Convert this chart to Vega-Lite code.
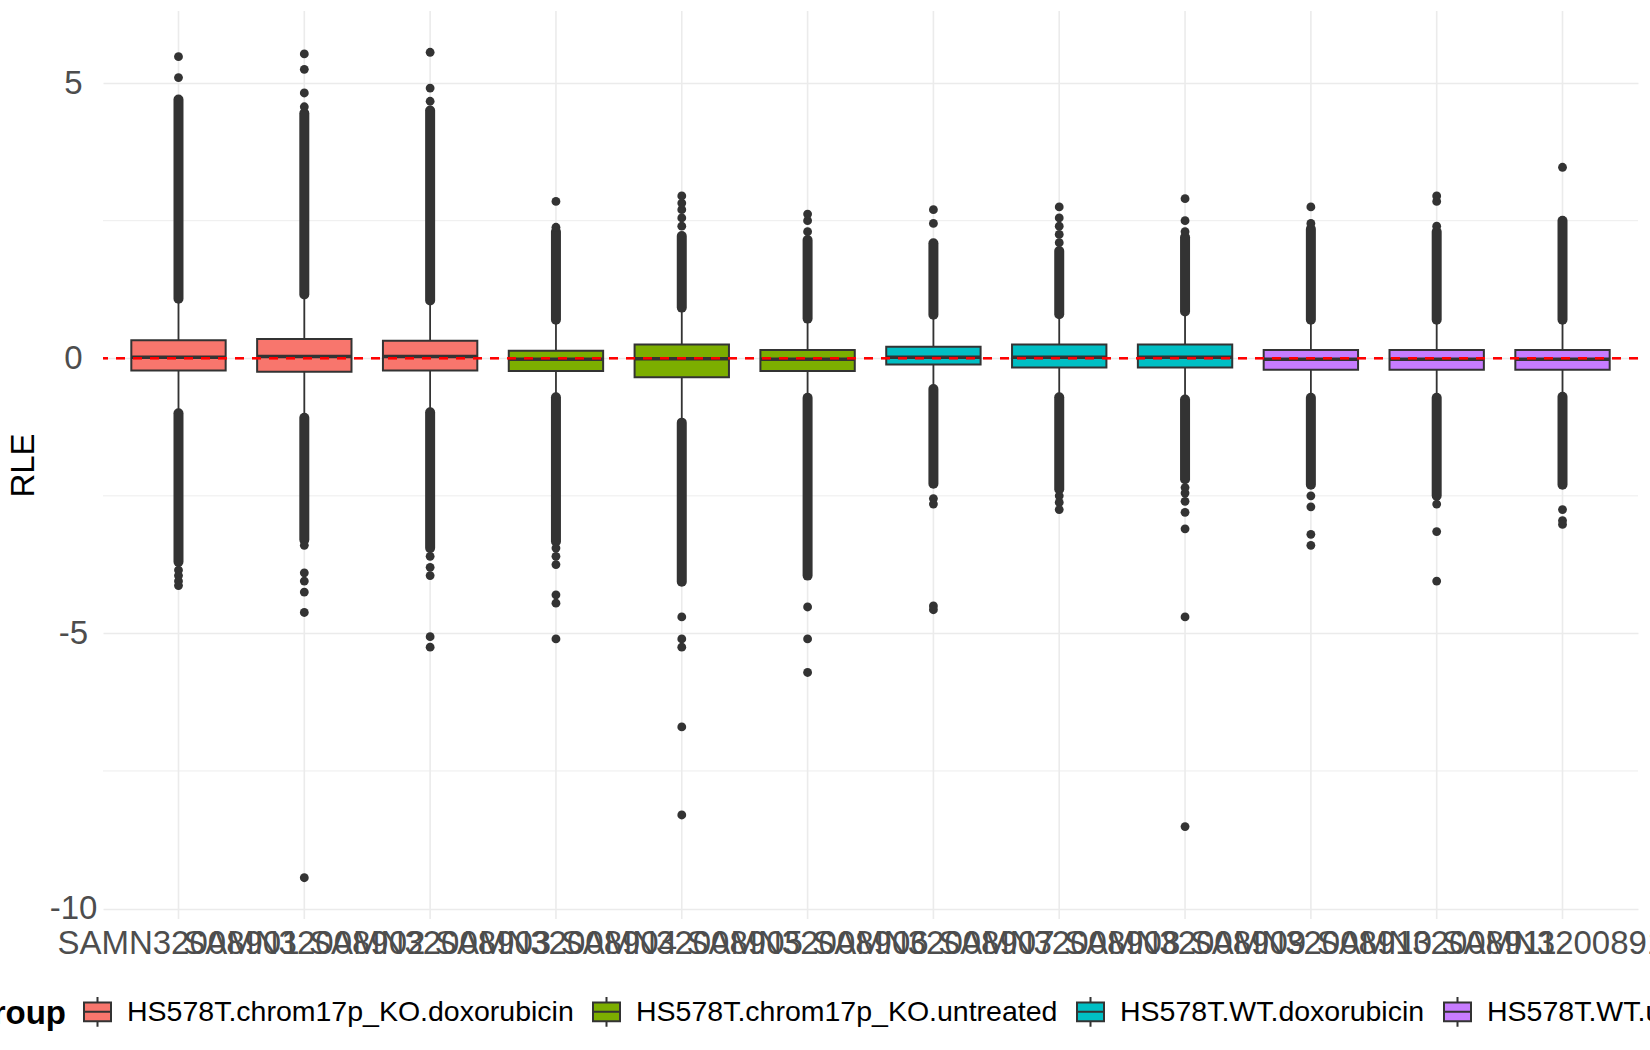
{
  "$schema": "https://vega.github.io/schema/vega-lite/v6.json",
  "autosize": {"type": "none"},
  "padding": {"left": 103, "top": 11, "right": 12, "bottom": 131},
  "width": 1535,
  "height": 908,
  "config": {
    "view": {"stroke": null},
    "font": "Liberation Sans",
    "axis": {"domain": false, "ticks": false}
  },
  "datasets": {
    "boxes": [
      {"sample": "SAMN32008901", "group": "HS578T.chrom17p_KO.doxorubicin", "q1": -0.224, "med": 0.018, "q3": 0.327, "ulo": 1.08, "uhi": 4.7, "dlo": -1.0, "dhi": -3.7},
      {"sample": "SAMN32008902", "group": "HS578T.chrom17p_KO.doxorubicin", "q1": -0.244, "med": 0.03, "q3": 0.35, "ulo": 1.16, "uhi": 4.45, "dlo": -1.08, "dhi": -3.3},
      {"sample": "SAMN32008903", "group": "HS578T.chrom17p_KO.doxorubicin", "q1": -0.225, "med": 0.03, "q3": 0.32, "ulo": 1.05, "uhi": 4.5, "dlo": -0.98, "dhi": -3.45},
      {"sample": "SAMN32008904", "group": "HS578T.chrom17p_KO.untreated", "q1": -0.23, "med": -0.02, "q3": 0.134, "ulo": 0.7, "uhi": 2.3, "dlo": -0.71, "dhi": -3.33},
      {"sample": "SAMN32008905", "group": "HS578T.chrom17p_KO.untreated", "q1": -0.345, "med": -0.01, "q3": 0.25, "ulo": 0.92, "uhi": 2.22, "dlo": -1.17, "dhi": -4.06},
      {"sample": "SAMN32008906", "group": "HS578T.chrom17p_KO.untreated", "q1": -0.23, "med": -0.02, "q3": 0.15, "ulo": 0.72, "uhi": 2.15, "dlo": -0.72, "dhi": -3.95},
      {"sample": "SAMN32008907", "group": "HS578T.WT.doxorubicin", "q1": -0.115, "med": 0.02, "q3": 0.21, "ulo": 0.79, "uhi": 2.09, "dlo": -0.56, "dhi": -2.28},
      {"sample": "SAMN32008908", "group": "HS578T.WT.doxorubicin", "q1": -0.17, "med": 0.02, "q3": 0.25, "ulo": 0.8, "uhi": 1.95, "dlo": -0.71, "dhi": -2.38},
      {"sample": "SAMN32008909", "group": "HS578T.WT.doxorubicin", "q1": -0.17, "med": 0.02, "q3": 0.25, "ulo": 0.85, "uhi": 2.2, "dlo": -0.75, "dhi": -2.2},
      {"sample": "SAMN32008910", "group": "HS578T.WT.untreated", "q1": -0.21, "med": -0.02, "q3": 0.15, "ulo": 0.7, "uhi": 2.35, "dlo": -0.72, "dhi": -2.3},
      {"sample": "SAMN32008911", "group": "HS578T.WT.untreated", "q1": -0.21, "med": -0.02, "q3": 0.15, "ulo": 0.7, "uhi": 2.3, "dlo": -0.72, "dhi": -2.5},
      {"sample": "SAMN32008912", "group": "HS578T.WT.untreated", "q1": -0.21, "med": -0.02, "q3": 0.15, "ulo": 0.7, "uhi": 2.5, "dlo": -0.7, "dhi": -2.3}
    ],
    "outliers": [
      {"sample": "SAMN32008901", "v": 5.1}, {"sample": "SAMN32008901", "v": 5.48},
      {"sample": "SAMN32008901", "v": -3.85}, {"sample": "SAMN32008901", "v": -3.95}, {"sample": "SAMN32008901", "v": -4.05}, {"sample": "SAMN32008901", "v": -4.13},
      {"sample": "SAMN32008902", "v": 4.57}, {"sample": "SAMN32008902", "v": 4.82}, {"sample": "SAMN32008902", "v": 5.25}, {"sample": "SAMN32008902", "v": 5.53},
      {"sample": "SAMN32008902", "v": -3.4}, {"sample": "SAMN32008902", "v": -3.9}, {"sample": "SAMN32008902", "v": -4.05}, {"sample": "SAMN32008902", "v": -4.25}, {"sample": "SAMN32008902", "v": -4.62}, {"sample": "SAMN32008902", "v": -9.44},
      {"sample": "SAMN32008903", "v": 4.67}, {"sample": "SAMN32008903", "v": 4.91}, {"sample": "SAMN32008903", "v": 5.56},
      {"sample": "SAMN32008903", "v": -3.6}, {"sample": "SAMN32008903", "v": -3.8}, {"sample": "SAMN32008903", "v": -3.95}, {"sample": "SAMN32008903", "v": -5.06}, {"sample": "SAMN32008903", "v": -5.25},
      {"sample": "SAMN32008904", "v": 2.38}, {"sample": "SAMN32008904", "v": 2.85},
      {"sample": "SAMN32008904", "v": -3.45}, {"sample": "SAMN32008904", "v": -3.6}, {"sample": "SAMN32008904", "v": -3.75}, {"sample": "SAMN32008904", "v": -4.3}, {"sample": "SAMN32008904", "v": -4.45}, {"sample": "SAMN32008904", "v": -5.1},
      {"sample": "SAMN32008905", "v": 2.4}, {"sample": "SAMN32008905", "v": 2.55}, {"sample": "SAMN32008905", "v": 2.7}, {"sample": "SAMN32008905", "v": 2.82}, {"sample": "SAMN32008905", "v": 2.95},
      {"sample": "SAMN32008905", "v": -4.7}, {"sample": "SAMN32008905", "v": -5.1}, {"sample": "SAMN32008905", "v": -5.25}, {"sample": "SAMN32008905", "v": -6.7}, {"sample": "SAMN32008905", "v": -8.3},
      {"sample": "SAMN32008906", "v": 2.3}, {"sample": "SAMN32008906", "v": 2.5}, {"sample": "SAMN32008906", "v": 2.62},
      {"sample": "SAMN32008906", "v": -4.52}, {"sample": "SAMN32008906", "v": -5.1}, {"sample": "SAMN32008906", "v": -5.71},
      {"sample": "SAMN32008907", "v": 2.45}, {"sample": "SAMN32008907", "v": 2.7},
      {"sample": "SAMN32008907", "v": -2.55}, {"sample": "SAMN32008907", "v": -2.65}, {"sample": "SAMN32008907", "v": -4.5}, {"sample": "SAMN32008907", "v": -4.57},
      {"sample": "SAMN32008908", "v": 2.1}, {"sample": "SAMN32008908", "v": 2.25}, {"sample": "SAMN32008908", "v": 2.4}, {"sample": "SAMN32008908", "v": 2.55}, {"sample": "SAMN32008908", "v": 2.75},
      {"sample": "SAMN32008908", "v": -2.5}, {"sample": "SAMN32008908", "v": -2.62}, {"sample": "SAMN32008908", "v": -2.75},
      {"sample": "SAMN32008909", "v": 2.3}, {"sample": "SAMN32008909", "v": 2.5}, {"sample": "SAMN32008909", "v": 2.9},
      {"sample": "SAMN32008909", "v": -2.35}, {"sample": "SAMN32008909", "v": -2.45}, {"sample": "SAMN32008909", "v": -2.6}, {"sample": "SAMN32008909", "v": -2.8}, {"sample": "SAMN32008909", "v": -3.1}, {"sample": "SAMN32008909", "v": -4.7}, {"sample": "SAMN32008909", "v": -8.51},
      {"sample": "SAMN32008910", "v": 2.45}, {"sample": "SAMN32008910", "v": 2.75},
      {"sample": "SAMN32008910", "v": -2.5}, {"sample": "SAMN32008910", "v": -2.7}, {"sample": "SAMN32008910", "v": -3.2}, {"sample": "SAMN32008910", "v": -3.4},
      {"sample": "SAMN32008911", "v": 2.4}, {"sample": "SAMN32008911", "v": 2.85}, {"sample": "SAMN32008911", "v": 2.95},
      {"sample": "SAMN32008911", "v": -2.65}, {"sample": "SAMN32008911", "v": -3.15}, {"sample": "SAMN32008911", "v": -4.05},
      {"sample": "SAMN32008912", "v": 3.47},
      {"sample": "SAMN32008912", "v": -2.75}, {"sample": "SAMN32008912", "v": -2.95}, {"sample": "SAMN32008912", "v": -3.02}
    ],
    "minor": [{"g": -7.5}, {"g": -2.5}, {"g": 2.5}]
  },
  "layer": [
    {
      "data": {"name": "minor"},
      "mark": {"type": "rule", "color": "#EBEBEB", "strokeWidth": 0.9},
      "encoding": {
        "y": {
          "field": "g", "type": "quantitative", "title": "RLE",
          "scale": {"domain": [-10.19, 6.31], "nice": false, "zero": false},
          "axis": {
            "values": [-10, -5, 0, 5],
            "labelExpr": "'' + datum.value",
            "grid": true, "gridColor": "#EBEBEB", "gridWidth": 1.6,
            "labelFontSize": 33, "labelColor": "#4D4D4D",
            "labelAlign": "center", "labelPadding": 30,
            "titleFontSize": 33, "titleColor": "#000000", "titleFontWeight": "normal",
            "titlePadding": 9
          }
        }
      }
    },
    {
      "data": {"name": "boxes"},
      "mark": {"type": "rule", "color": "#EBEBEB", "strokeWidth": 1.6},
      "encoding": {
        "x": {
          "field": "sample", "type": "nominal", "sort": null, "title": null,
          "scale": {"paddingInner": 0, "paddingOuter": 0.1},
          "axis": {
            "labelAngle": 0, "labelFontSize": 33, "labelColor": "#4D4D4D",
            "labelPadding": 8, "labelLimit": 0, "labelOverlap": false, "grid": false
          }
        }
      }
    },
    {
      "data": {"name": "boxes"},
      "mark": {"type": "rule", "color": "#333333", "strokeWidth": 1.8},
      "encoding": {
        "x": {"field": "sample", "type": "nominal", "sort": null, "title": null},
        "y": {"field": "q3", "type": "quantitative", "title": "RLE", "scale": {"domain": [-10.19, 6.31], "nice": false, "zero": false}},
        "y2": {"field": "ulo"}
      }
    },
    {
      "data": {"name": "boxes"},
      "mark": {"type": "rule", "color": "#333333", "strokeWidth": 1.8},
      "encoding": {
        "x": {"field": "sample", "type": "nominal", "sort": null, "title": null},
        "y": {"field": "dlo", "type": "quantitative", "title": "RLE", "scale": {"domain": [-10.19, 6.31], "nice": false, "zero": false}},
        "y2": {"field": "q1"}
      }
    },
    {
      "data": {"name": "boxes"},
      "mark": {"type": "rule", "color": "#333333", "strokeWidth": 10, "strokeCap": "round"},
      "encoding": {
        "x": {"field": "sample", "type": "nominal", "sort": null, "title": null},
        "y": {"field": "ulo", "type": "quantitative", "title": "RLE", "scale": {"domain": [-10.19, 6.31], "nice": false, "zero": false}},
        "y2": {"field": "uhi"}
      }
    },
    {
      "data": {"name": "boxes"},
      "mark": {"type": "rule", "color": "#333333", "strokeWidth": 10, "strokeCap": "round"},
      "encoding": {
        "x": {"field": "sample", "type": "nominal", "sort": null, "title": null},
        "y": {"field": "dhi", "type": "quantitative", "title": "RLE", "scale": {"domain": [-10.19, 6.31], "nice": false, "zero": false}},
        "y2": {"field": "dlo"}
      }
    },
    {
      "data": {"name": "outliers"},
      "mark": {"type": "circle", "color": "#333333", "size": 78, "opacity": 1},
      "encoding": {
        "x": {"field": "sample", "type": "nominal", "sort": null, "title": null},
        "y": {"field": "v", "type": "quantitative", "title": "RLE", "scale": {"domain": [-10.19, 6.31], "nice": false, "zero": false}}
      }
    },
    {
      "data": {"name": "boxes"},
      "mark": {"type": "bar", "width": {"band": 0.75}, "stroke": "#333333", "strokeWidth": 2, "opacity": 1},
      "encoding": {
        "x": {"field": "sample", "type": "nominal", "sort": null, "title": null},
        "y": {"field": "q1", "type": "quantitative", "title": "RLE", "scale": {"domain": [-10.19, 6.31], "nice": false, "zero": false}},
        "y2": {"field": "q3"},
        "fill": {
          "field": "group", "type": "nominal",
          "scale": {
            "domain": ["HS578T.chrom17p_KO.doxorubicin", "HS578T.chrom17p_KO.untreated", "HS578T.WT.doxorubicin", "HS578T.WT.untreated"],
            "range": ["#F8766D", "#7CAE00", "#00BFC4", "#C77CFF"]
          },
          "legend": {
            "title": "Group",
            "orient": "none",
            "legendX": -136,
            "legendY": 986,
            "direction": "horizontal",
            "columns": 4,
            "titleOrient": "left",
            "titleFontSize": 33,
            "titleFontWeight": "bold",
            "titleColor": "#000000",
            "titlePadding": 17,
            "labelFontSize": 28.5,
            "labelColor": "#000000",
            "labelLimit": 0,
            "labelOffset": 15,
            "columnPadding": 15,
            "symbolType": "M-1,-0.7H1V0.7H-1Z M-1,0H1 M0,-0.7V-1.1 M0,0.7V1.1",
            "symbolSize": 729,
            "symbolStrokeColor": "#333333",
            "symbolStrokeWidth": 2,
            "symbolOpacity": 1
          }
        }
      }
    },
    {
      "data": {"name": "boxes"},
      "mark": {"type": "tick", "color": "#333333", "size": 94, "thickness": 3.5, "opacity": 1},
      "encoding": {
        "x": {"field": "sample", "type": "nominal", "sort": null, "title": null},
        "y": {"field": "med", "type": "quantitative", "title": "RLE", "scale": {"domain": [-10.19, 6.31], "nice": false, "zero": false}}
      }
    },
    {
      "data": {"name": "minor"},
      "mark": {"type": "rule", "color": "#FF0000", "strokeWidth": 2, "strokeDash": [9, 8]},
      "encoding": {
        "y": {"datum": 0, "type": "quantitative", "title": "RLE", "scale": {"domain": [-10.19, 6.31], "nice": false, "zero": false}}
      }
    }
  ]
}
